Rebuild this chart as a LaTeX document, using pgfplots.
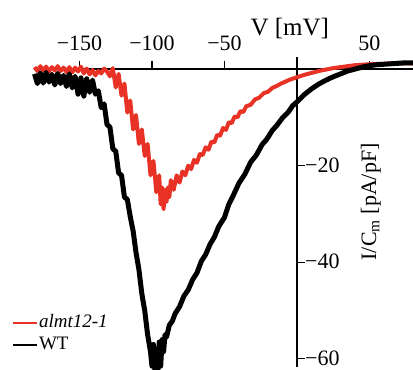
\documentclass[border=0pt]{standalone}
\usepackage{pgfplots}
\pgfplotsset{compat=1.18}
\usepackage{fontspec}
\setmainfont{Liberation Serif}
\definecolor{myred}{RGB}{232,50,38}

\pgfplotstableread{
x y
-181 0.4
-179 -0.4
-177 0.6
-175 -0.3
-173 0.5
-171 -0.5
-169 0.4
-167 -0.3
-165 0.6
-163 -0.4
-161 0.3
-159 -0.6
-157 0.4
-155 -0.7
-153 0.3
-151 -0.5
-149 0.5
-147 -0.9
-145 0.1
-143 -1.1
-141 -0.2
-139 -1.3
-137 -0.4
-135 -0.9
-133 0.1
-131 -0.5
-129 -1.5
-127 0.2
-125 -3.8
-123 -1.0
-121 -5.5
-119 -3.0
-117 -9.0
-115 -6.5
-113 -12.5
-111 -9.5
-109 -15.5
-107 -12.5
-105 -18.0
-103 -15.5
-101 -22.0
-99 -19.0
-97 -25.5
-95 -22.0
-94 -28.0
-93 -24.5
-92 -29.0
-91 -25.0
-90 -27.5
-89 -24.5
-88 -26.5
-87 -23.0
-85 -25.0
-83 -22.0
-81 -23.5
-79 -21.2
-77 -22.0
-75 -20.0
-73 -20.7
-71 -18.8
-69 -19.4
-67 -17.6
-65 -17.8
-63 -16.2
-61 -16.7
-59 -15.0
-57 -15.2
-55 -13.6
-53 -13.8
-51 -12.2
-49 -12.6
-47 -11.0
-45 -11.2
-43 -9.8
-41 -10.0
-39 -8.7
-37 -8.9
-35 -7.7
-32 -7.4
-29 -6.3
-26 -5.9
-23 -5.0
-20 -4.7
-17 -3.9
-14 -3.5
-11 -3.0
-8 -2.6
-5 -2.2
-2 -1.9
0 -1.7
5 -1.2
10 -0.8
15 -0.4
20 -0.1
25 0.2
30 0.4
35 0.6
40 0.8
45 0.9
50 1.0
60 1.1
70 1.2
80 1.2
}\redtable

\pgfplotstableread{
x y
-181 -1.0
-179 -3.0
-177 -0.8
-175 -2.9
-173 -0.7
-171 -2.7
-169 -1.1
-167 -3.3
-165 -0.9
-163 -3.0
-161 -1.3
-159 -3.6
-157 -1.0
-155 -3.9
-153 -1.5
-151 -5.2
-149 -1.8
-147 -5.6
-145 -2.0
-143 -4.8
-141 -2.3
-139 -5.2
-137 -4.5
-135 -8.0
-133 -7.2
-131 -11.5
-129 -12.0
-127 -16.5
-125 -17.0
-123 -21.5
-121 -22.0
-119 -26.5
-117 -27.0
-115 -30.5
-113 -33.5
-111 -38.0
-109 -41.5
-107 -46.5
-105 -50.0
-103 -55.0
-101 -58.5
-100 -61.5
-99 -57.0
-98 -62.5
-97 -58.0
-96 -63.0
-95 -56.5
-94 -61.5
-93 -56.0
-92 -58.5
-91 -55.0
-90 -55.5
-88 -53.0
-86 -52.2
-84 -50.6
-81 -49.2
-78 -47.0
-75 -45.7
-72 -43.6
-69 -42.2
-66 -39.8
-63 -38.4
-60 -36.3
-57 -34.8
-54 -32.6
-50 -30.7
-47 -28.0
-44 -26.2
-40 -23.6
-36 -21.8
-32 -19.3
-28 -17.8
-24 -15.6
-21 -14.6
-17 -12.7
-14 -11.7
-10 -10.1
-6 -8.9
-3 -7.6
0 -6.8
5 -5.3
10 -4.1
15 -3.1
20 -2.3
25 -1.6
30 -1.0
35 -0.4
40 0.0
45 0.4
50 0.7
55 0.9
60 1.0
65 1.1
70 1.2
75 1.3
80 1.3
}\blacktable

\begin{document}
\begin{tikzpicture}
\begin{axis}[
  x=1.45pt, y=4.83pt,
  axis lines=center,
  xmin=-181, xmax=80, ymin=-61.7, ymax=2.5,
  clip=false,
  axis line style={line width=1.2pt, -},
  tick style={line width=1.1pt, black},
  tick align=inside,
  major tick length=8pt,
  xtick={-150,-100,-50,50},
  xticklabels={−150,−100,−50,50},
  ytick={-60,-40,-20},
  yticklabels={−60,−40,−20},
  xticklabel style={anchor=base, yshift=19pt, font=\fontsize{22}{24}\selectfont},
  yticklabel style={anchor=west, inner sep=0pt, xshift=8pt, yshift=0.5pt, font=\fontsize{22}{24}\selectfont},
  xlabel={V [mV]},
  ylabel={I/C\textsubscript{m} [pA/pF]},
  every axis x label/.style={at={(axis cs:-5,8.3)}, anchor=center, font=\fontsize{25}{27}\selectfont},
  every axis y label/.style={at={(axis cs:51,-27.5)}, rotate=90, anchor=center, font=\fontsize{22}{24}\selectfont},
  legend style={at={(axis cs:-197,-50.3)}, anchor=north west, draw=none, fill=none,
    font=\fontsize{19}{20}\selectfont, row sep=0pt, inner sep=0pt,
    nodes={inner sep=1pt, text height=14pt, text depth=6pt}},
  legend cell align=left,
  legend image code/.code={\draw[#1, line width=2.5pt] (0pt,0pt) -- (24pt,0pt);},
]
\addplot[myred, line width=4pt, line join=round] table[x=x,y=y] {\redtable};
\addlegendentry{\textit{almt12-1}}
\addplot[black, line width=5pt, line join=round] table[x=x,y=y] {\blacktable};
\addlegendentry{WT}
\coordinate (bl) at (axis cs:-204.8,-62.1);
\coordinate (tr) at (axis cs:80,14.3);
\end{axis}
\pgfresetboundingbox
\path (bl) rectangle (tr);
\end{tikzpicture}
\end{document}
